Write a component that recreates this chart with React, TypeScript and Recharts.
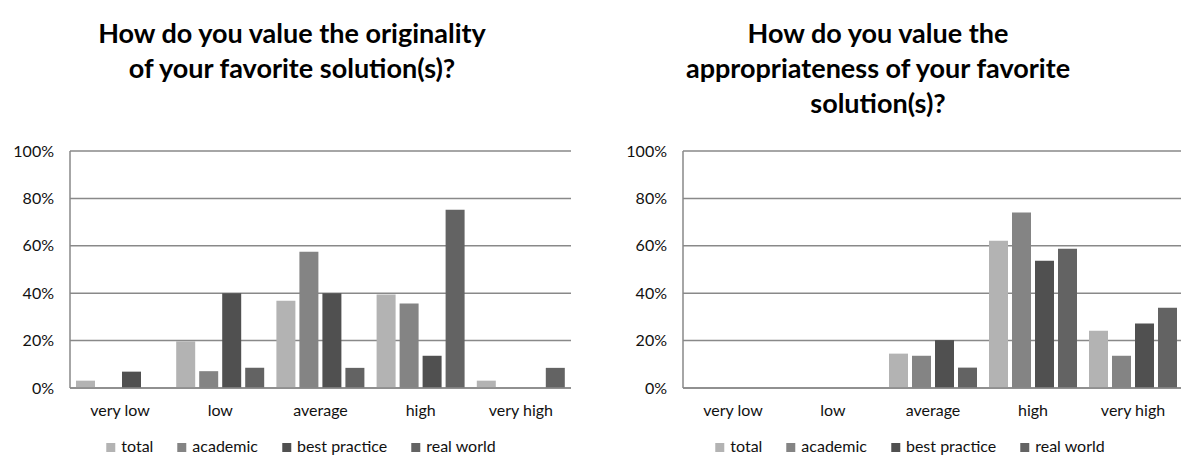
import React from "react";
import { BarChart, Bar, XAxis, YAxis, CartesianGrid } from "recharts";

const categories = ["very low", "low", "average", "high", "very high"];
const seriesNames = ["total", "academic", "best practice", "real world"];
const seriesKeys = ["total", "academic", "bestPractice", "realWorld"];
const seriesColors = ["#b3b3b3", "#848484", "#505050", "#636363"];
const yTicks = [0, 0.2, 0.4, 0.6, 0.8, 1];

// originality chart
const originalityTotal = [0.031, 0.197, 0.368, 0.394, 0.031];
const originalityAcademic = [0, 0.071, 0.575, 0.357, 0];
const originalityBestPractice = [0.069, 0.4, 0.4, 0.136, 0];
const originalityRealWorld = [0, 0.085, 0.085, 0.752, 0.085];

// appropriateness chart
const appropriatenessTotal = [0, 0, 0.145, 0.621, 0.242];
const appropriatenessAcademic = [0, 0, 0.136, 0.741, 0.136];
const appropriatenessBestPractice = [0, 0, 0.202, 0.537, 0.272];
const appropriatenessRealWorld = [0, 0, 0.086, 0.588, 0.339];

const FONT = "Lato, 'Open Sans', sans-serif";
const GRID = "#898989";

function buildRows(series: number[][]) {
  return categories.map((name, i) => {
    const row: Record<string, string | number> = { name };
    seriesKeys.forEach((key, s) => {
      row[key] = series[s][i];
    });
    return row;
  });
}

const originalityData = buildRows([
  originalityTotal,
  originalityAcademic,
  originalityBestPractice,
  originalityRealWorld,
]);

const appropriatenessData = buildRows([
  appropriatenessTotal,
  appropriatenessAcademic,
  appropriatenessBestPractice,
  appropriatenessRealWorld,
]);

const tickStyle = { fill: "#111", fontSize: 16, fontFamily: FONT };

function Legend({ centerX }: { centerX: number }) {
  return (
    <div
      style={{
        position: "absolute",
        left: centerX,
        top: 436,
        transform: "translateX(-50%)",
        display: "flex",
        alignItems: "center",
        gap: 24,
        whiteSpace: "nowrap",
        fontFamily: FONT,
        fontSize: 16,
        lineHeight: "19px",
        color: "#111",
      }}
    >
      {seriesNames.map((name, i) => (
        <span key={name} style={{ display: "flex", alignItems: "center" }}>
          <span
            style={{
              display: "inline-block",
              width: 9,
              height: 9,
              marginTop: 4,
              marginRight: 6,
              background: seriesColors[i],
            }}
          />
          {name}
        </span>
      ))}
    </div>
  );
}

function Title({ lines, centerX }: { lines: string[]; centerX: number }) {
  return (
    <div
      style={{
        position: "absolute",
        left: centerX,
        top: 15,
        transform: "translateX(-50%)",
        textAlign: "center",
        whiteSpace: "nowrap",
        fontFamily: FONT,
        fontWeight: 700,
        fontSize: 27,
        lineHeight: "35px",
        color: "#000",
      }}
    >
      {lines.map((l) => (
        <div key={l}>{l}</div>
      ))}
    </div>
  );
}

function SurveyBars({
  data,
  left,
  width,
}: {
  data: Record<string, string | number>[];
  left: number;
  width: number;
}) {
  return (
    <div style={{ position: "absolute", left, top: 140 }}>
      <BarChart
        width={width}
        height={300}
        data={data}
        margin={{ top: 11, right: 4, left: 0, bottom: 0 }}
        barCategoryGap={6}
        barGap={4}
      >
        <CartesianGrid vertical={false} stroke={GRID} strokeWidth={1.5} />
        <XAxis
          dataKey="name"
          height={52}
          axisLine={{ stroke: GRID, strokeWidth: 1.5 }}
          tickLine={false}
          tickSize={0}
          tickMargin={17}
          tick={tickStyle}
          interval={0}
        />
        <YAxis
          width={70}
          domain={[0, 1]}
          ticks={yTicks}
          interval={0}
          axisLine={{ stroke: GRID, strokeWidth: 1.5 }}
          tickLine={false}
          tickSize={0}
          tickMargin={16}
          tick={tickStyle}
          tickFormatter={(v: number) => `${Math.round(v * 100)}%`}
        />
        {seriesKeys.map((key, i) => (
          <Bar
            key={key}
            dataKey={key}
            name={seriesNames[i]}
            fill={seriesColors[i]}
            isAnimationActive={false}
          />
        ))}
      </BarChart>
    </div>
  );
}

export default function App() {
  return (
    <div
      style={{
        position: "absolute",
        left: 0,
        top: 0,
        width: 1181,
        height: 456,
        overflow: "hidden",
        background: "#fff",
      }}
    >
      <Title
        centerX={292}
        lines={["How do you value the originality", "of your favorite solution(s)?"]}
      />
      <Title
        centerX={878}
        lines={[
          "How do you value the",
          "appropriateness of your favorite",
          "solution(s)?",
        ]}
      />
      <SurveyBars data={originalityData} left={0} width={575} />
      <SurveyBars data={appropriatenessData} left={613} width={574} />
      <Legend centerX={301} />
      <Legend centerX={910} />
    </div>
  );
}
